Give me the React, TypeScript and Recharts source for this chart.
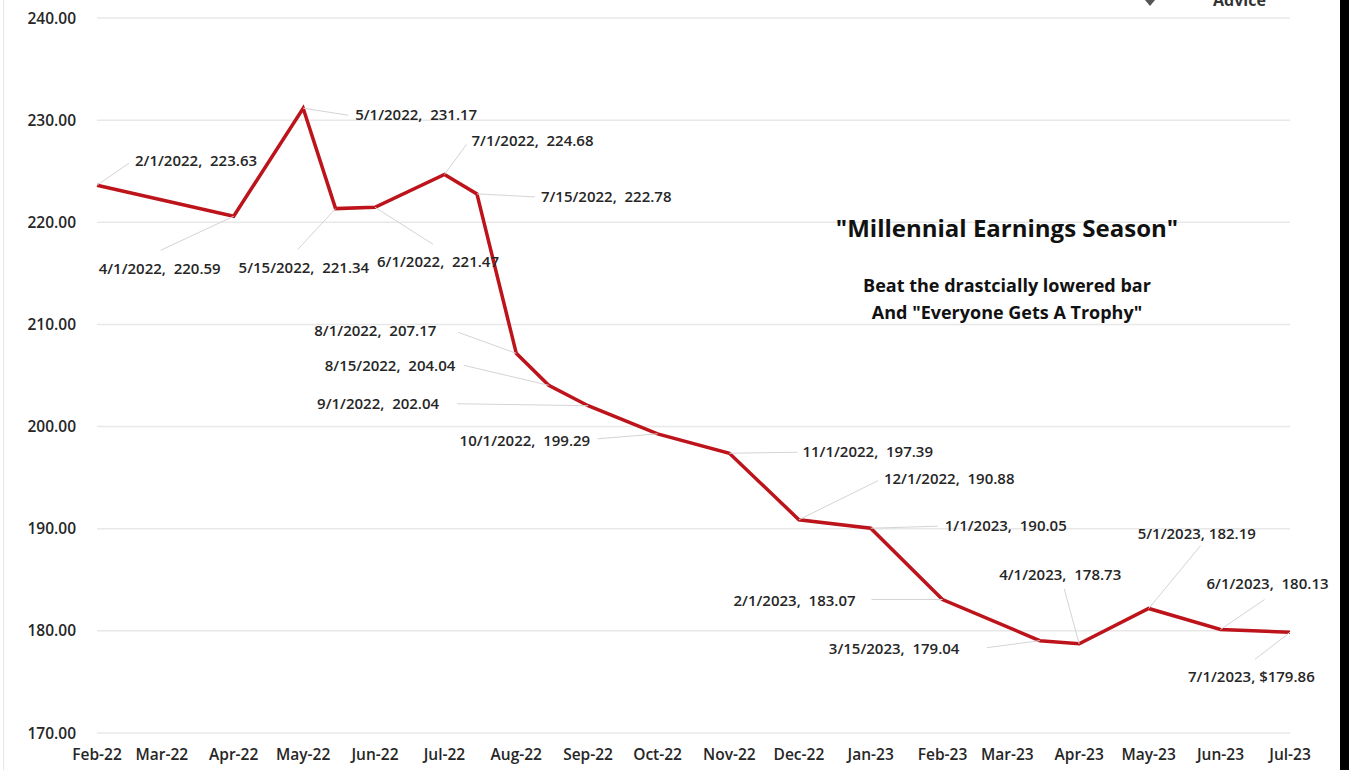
import React from 'react';
import { LineChart, Line, XAxis, YAxis, CartesianGrid, LabelList } from 'recharts';

// earnings estimate points (date, value)
const pointDates = [
  '2022-02-01', '2022-04-01', '2022-05-01', '2022-05-15', '2022-06-01', '2022-07-01',
  '2022-07-15', '2022-08-01', '2022-08-15', '2022-09-01', '2022-10-01', '2022-11-01',
  '2022-12-01', '2023-01-01', '2023-02-01', '2023-03-15', '2023-04-01', '2023-05-01',
  '2023-06-01', '2023-07-01',
];
const earnings = [
  223.63, 220.59, 231.17, 221.34, 221.47, 224.68, 222.78, 207.17, 204.04, 202.04,
  199.29, 197.39, 190.88, 190.05, 183.07, 179.04, 178.73, 182.19, 180.13, 179.86,
];
const pointLabels = [
  '2/1/2022,  223.63', '4/1/2022,  220.59', '5/1/2022,  231.17', '5/15/2022,  221.34',
  '6/1/2022,  221.47', '7/1/2022,  224.68', '7/15/2022,  222.78', '8/1/2022,  207.17',
  '8/15/2022,  204.04', '9/1/2022,  202.04', '10/1/2022,  199.29', '11/1/2022,  197.39',
  '12/1/2022,  190.88', '1/1/2023,  190.05', '2/1/2023,  183.07', '3/15/2023,  179.04',
  '4/1/2023,  178.73', '5/1/2023, 182.19', '6/1/2023,  180.13', '7/1/2023, $179.86',
];

const monthTicks = [
  '2022-02-01', '2022-03-01', '2022-04-01', '2022-05-01', '2022-06-01', '2022-07-01',
  '2022-08-01', '2022-09-01', '2022-10-01', '2022-11-01', '2022-12-01', '2023-01-01',
  '2023-02-01', '2023-03-01', '2023-04-01', '2023-05-01', '2023-06-01', '2023-07-01',
];
const monthNames = ['Jan', 'Feb', 'Mar', 'Apr', 'May', 'Jun', 'Jul', 'Aug', 'Sep', 'Oct', 'Nov', 'Dec'];
const yTicks = [170, 180, 190, 200, 210, 220, 230, 240];

// where each data label sits relative to its point: text start (dx, dy), leader end (lx, ly)
const labelOffsets = [
  [38, -24, 32, -22], [-135, 52, -73, 34], [52, 7, 45, 7], [-97, 59, -38, 41],
  [2, 54, 58, 37], [27, -34, 22, -30], [64, 3, 58, 3], [-202, -23, -58, -21],
  [-224, -20, -85, -20], [-271, -2, -131, -2], [-198, 7, -60, 5], [73, -1, 68, -1],
  [85, -41, 79, -39], [74, -2, 67, -2], [-209, 1, -71, 0], [-211, 8, -53, 7],
  [-80, -69, -15, -55], [-11, -75, 52, -63], [-14, -46, 44, -30], [-102, 44, -35, 27],
];

const toTime = (s: string) => {
  const [y, m, d] = s.split('-').map(Number);
  return Date.UTC(y, m - 1, d);
};

const data = pointDates.map((d, i) => ({ t: toTime(d), v: earnings[i], label: pointLabels[i] }));

const FONT = '"Open Sans", Calibri, sans-serif';

function fmtMonth(t: number) {
  const d = new Date(t);
  return `${monthNames[d.getUTCMonth()]}-${String(d.getUTCFullYear()).slice(2)}`;
}

function PointLabel(props: any) {
  const { x, y, index, value } = props;
  const off = labelOffsets[index];
  if (!off) return null;
  return (
    <g>
      <line x1={x} y1={y} x2={x + off[2]} y2={y + off[3]} stroke="#d4d4d4" strokeWidth={1} />
      <text x={x + off[0]} y={y + off[1]} dy="0.35em" fontFamily={FONT} fontSize={15}
        fontWeight={600} fill="#262626" style={{ whiteSpace: 'pre' }}>
        {value}
      </text>
    </g>
  );
}

export default function App() {
  return (
    <div style={{ position: 'absolute', left: 0, top: 0, width: 1349, height: 770, background: '#fff', overflow: 'hidden' }}>
      <div style={{ position: 'absolute', left: 3, top: 0, width: 1, height: 770, background: '#e6e6e6' }} />
      <div style={{ position: 'absolute', left: 1340, top: 0, width: 9, height: 770, background: '#000' }} />
      <LineChart width={1349} height={770} data={data} margin={{ top: 18, right: 59, bottom: 0, left: 0 }}>
        <CartesianGrid vertical={false} stroke="#e8e8e8" strokeWidth={1.5} />
        <XAxis
          dataKey="t"
          type="number"
          scale="time"
          domain={[toTime(monthTicks[0]), toTime(monthTicks[monthTicks.length - 1])]}
          ticks={monthTicks.map(toTime)}
          tickFormatter={fmtMonth}
          axisLine={false}
          tickLine={false}
          tickSize={0}
          tickMargin={16}
          height={37}
          interval={0}
          tick={{ fontFamily: FONT, fontSize: 15.5, fontWeight: 600, fill: '#262626' }}
        />
        <YAxis
          domain={[170, 240]}
          ticks={yTicks}
          tickFormatter={(v: number) => v.toFixed(2)}
          axisLine={false}
          tickLine={false}
          tickSize={0}
          tickMargin={21}
          width={97}
          tick={{ fontFamily: FONT, fontSize: 15.5, fontWeight: 600, fill: '#262626' }}
        />
        <Line
          type="linear"
          dataKey="v"
          stroke="#bd141c"
          strokeWidth={3.5}
          dot={false}
          activeDot={false}
          isAnimationActive={false}
        >
          <LabelList dataKey="label" content={<PointLabel />} />
        </Line>
        <text x={1007} y={231} textAnchor="middle" dominantBaseline="middle" fontFamily={FONT}
          fontSize={24} fontWeight={700} fill="#111">"Millennial Earnings Season"</text>
        <text x={1007} y={287} textAnchor="middle" dominantBaseline="middle" fontFamily={FONT}
          fontSize={18} fontWeight={700} fill="#111">Beat the drastcially lowered bar</text>
        <text x={1007} y={314} textAnchor="middle" dominantBaseline="middle" fontFamily={FONT}
          fontSize={18} fontWeight={700} fill="#111">And "Everyone Gets A Trophy"</text>
        <text x={1213} y={6} fontFamily={FONT} fontSize={16} fontWeight={700} fill="#333">Advice</text>
        <path d="M1140,-6 L1160,-6 L1150,6 Z" fill="#555" />
      </LineChart>
    </div>
  );
}
